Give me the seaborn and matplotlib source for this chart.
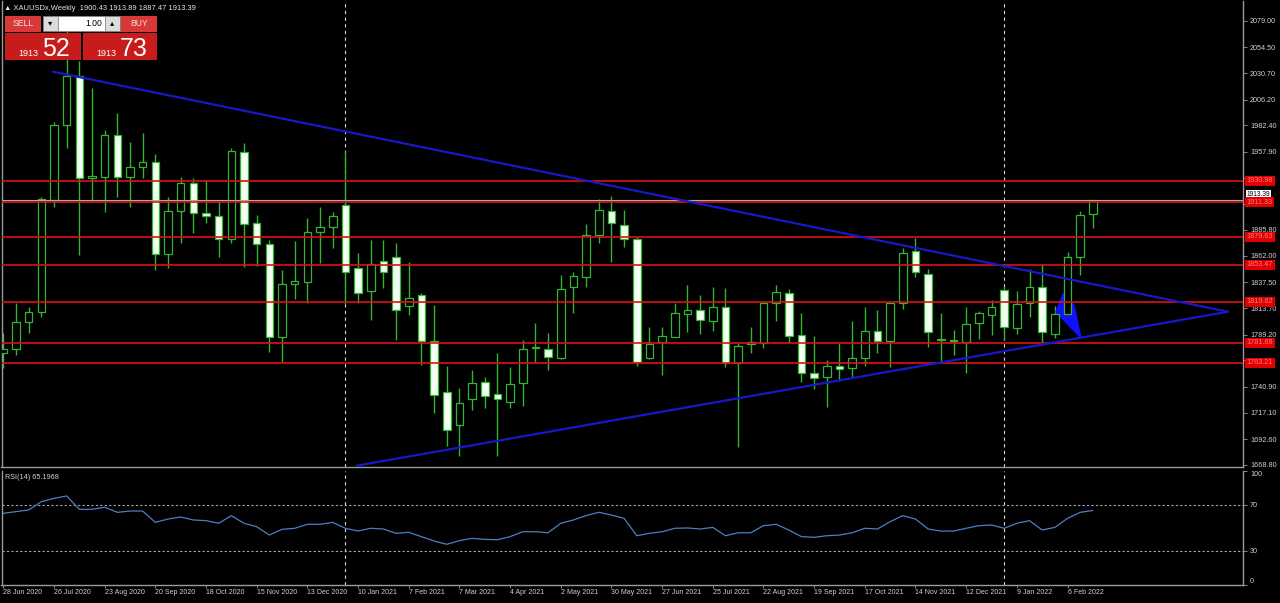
import numpy as np
import pandas as pd
import seaborn as sns
import matplotlib
matplotlib.use("Agg")
import matplotlib.pyplot as plt
import matplotlib.transforms as mtransforms
from matplotlib.patches import Rectangle, Polygon

# weekly XAUUSD candles, 28 Jun 2020 .. 20 Feb 2022
opens = [1772.5, 1775.9, 1800.5, 1809.7, 1913.5, 1982.4, 2027.9, 1933.4, 1935.0, 1973.5,
         1935.0, 1943.6, 1948.9, 1863.3, 1903.3, 1928.8, 1901.8, 1898.7, 1877.5, 1958.1,
         1891.9, 1872.8, 1786.7, 1835.9, 1837.5, 1883.6, 1888.8, 1908.9, 1850.4, 1829.4,
         1857.1, 1861.1, 1815.6, 1825.7, 1783.3, 1735.9, 1705.7, 1729.4, 1745.7, 1734.0,
         1727.3, 1744.2, 1777.1, 1775.9, 1767.9, 1832.8, 1842.7, 1881.2, 1903.3, 1890.4,
         1877.2, 1767.9, 1782.1, 1787.3, 1807.9, 1811.9, 1802.1, 1815.0, 1763.3, 1780.5,
         1781.1, 1818.1, 1827.9, 1788.8, 1754.0, 1749.7, 1760.2, 1758.0, 1767.9, 1792.8,
         1783.3, 1818.0, 1866.7, 1845.1, 1784.5, 1784.2, 1782.0, 1799.6, 1807.3, 1830.4,
         1795.0, 1818.7, 1832.8, 1789.7, 1807.9, 1860.5, 1900.43]
highs = [1790.4, 1818.0, 1815.0, 1916.5, 1985.8, 2075.0, 2042.0, 2016.6, 1978.1, 1993.5,
         1967.3, 1975.0, 1955.9, 1916.5, 1935.0, 1933.4, 1931.9, 1911.9, 1961.2, 1966.4,
         1899.6, 1876.5, 1848.8, 1875.6, 1896.5, 1907.3, 1902.7, 1959.6, 1864.2, 1876.5,
         1876.5, 1873.5, 1856.5, 1827.3, 1816.5, 1760.2, 1739.6, 1756.5, 1750.4, 1771.9,
         1759.6, 1784.2, 1799.6, 1791.0, 1844.2, 1847.3, 1891.0, 1914.1, 1917.5, 1904.2,
         1879.6, 1796.5, 1796.5, 1818.7, 1835.0, 1825.8, 1833.4, 1831.9, 1781.1, 1795.9,
         1819.5, 1835.0, 1831.0, 1809.4, 1787.9, 1765.8, 1781.7, 1802.1, 1815.0, 1811.9,
         1818.7, 1868.8, 1878.1, 1849.4, 1808.8, 1793.4, 1815.0, 1811.0, 1821.1, 1833.4,
         1829.7, 1849.4, 1854.4, 1815.6, 1865.8, 1903.6, 1913.89]
lows = [1758.0, 1770.4, 1790.4, 1805.7, 1907.3, 1961.2, 1862.7, 1911.9, 1902.7, 1916.5,
        1907.3, 1933.4, 1848.8, 1850.4, 1873.5, 1882.7, 1891.9, 1860.5, 1874.1, 1851.3,
        1852.5, 1773.4, 1764.2, 1821.7, 1818.7, 1855.6, 1868.8, 1817.0, 1818.1, 1802.7,
        1831.9, 1784.2, 1807.3, 1761.1, 1717.1, 1686.3, 1677.1, 1719.6, 1721.1, 1677.4,
        1721.1, 1723.3, 1763.6, 1756.5, 1766.4, 1808.8, 1832.8, 1873.5, 1856.5, 1869.8,
        1760.5, 1766.7, 1751.9, 1786.7, 1791.9, 1789.7, 1792.5, 1759.6, 1685.0, 1771.9,
        1776.5, 1802.1, 1782.7, 1745.7, 1738.7, 1722.0, 1746.7, 1749.7, 1760.2, 1771.9,
        1759.0, 1812.5, 1842.7, 1778.0, 1762.7, 1770.4, 1753.4, 1784.8, 1788.8, 1784.2,
        1789.7, 1805.7, 1781.1, 1785.7, 1805.0, 1844.2, 1887.47]
closes = [1775.9, 1800.5, 1809.7, 1914.1, 1982.4, 2027.9, 1933.4, 1935.6, 1973.5, 1935.0,
          1943.6, 1948.9, 1863.3, 1903.3, 1929.5, 1901.2, 1899.0, 1877.5, 1959.0, 1891.0,
          1872.8, 1787.3, 1835.9, 1838.7, 1883.6, 1888.8, 1899.0, 1847.3, 1827.3, 1854.1,
          1847.3, 1811.9, 1822.7, 1783.3, 1733.4, 1701.1, 1725.7, 1744.2, 1732.8, 1729.7,
          1743.3, 1776.2, 1778.1, 1768.8, 1831.0, 1843.3, 1881.2, 1904.2, 1891.9, 1877.2,
          1763.6, 1780.2, 1788.2, 1808.8, 1811.9, 1802.7, 1815.0, 1763.3, 1778.7, 1782.7,
          1818.7, 1828.8, 1788.2, 1753.4, 1748.8, 1760.5, 1757.1, 1767.3, 1792.8, 1783.3,
          1818.1, 1864.8, 1847.3, 1791.9, 1785.1, 1783.3, 1798.7, 1808.8, 1815.0, 1796.5,
          1817.1, 1832.8, 1791.3, 1807.9, 1861.1, 1899.6, 1913.39]
rsi = [62.7, 64.2, 65.6, 72.9, 75.8, 77.9, 66.2, 66.2, 68.0, 63.6,
       64.7, 64.7, 54.8, 57.7, 59.5, 56.9, 56.3, 54.0, 60.7, 54.0,
       51.0, 43.7, 48.7, 49.6, 53.1, 53.1, 54.8, 49.6, 47.2, 49.6,
       49.0, 45.2, 46.1, 42.3, 38.5, 35.6, 38.8, 40.8, 39.9, 39.6,
       42.3, 46.6, 46.6, 45.7, 54.0, 56.9, 60.7, 63.6, 61.2, 58.3,
       43.1, 45.2, 46.6, 49.6, 49.9, 49.0, 50.4, 43.1, 45.7, 45.7,
       51.9, 53.1, 48.1, 42.3, 41.7, 43.1, 43.7, 45.7, 49.6, 49.0,
       55.4, 60.7, 57.7, 49.0, 47.2, 47.2, 49.6, 51.9, 52.5, 49.6,
       54.0, 56.3, 48.1, 50.4, 58.3, 63.6, 65.2]

date_labels = ["28 Jun 2020", "26 Jul 2020", "23 Aug 2020", "20 Sep 2020", "18 Oct 2020",
               "15 Nov 2020", "13 Dec 2020", "10 Jan 2021", "7 Feb 2021", "7 Mar 2021",
               "4 Apr 2021", "2 May 2021", "30 May 2021", "27 Jun 2021", "25 Jul 2021",
               "22 Aug 2021", "19 Sep 2021", "17 Oct 2021", "14 Nov 2021", "12 Dec 2021",
               "9 Jan 2022", "6 Feb 2022"]
price_ticks = [2079.00, 2054.50, 2030.70, 2006.20, 1982.40, 1957.90, 1934.10, 1909.60, 1885.80,
               1862.00, 1837.50, 1813.70, 1789.20, 1765.40, 1740.90, 1717.10, 1692.60, 1668.80]
# these scale labels sit under the level boxes and are hidden in the terminal
covered_ticks = [1934.10, 1909.60, 1765.40]
levels = [1931.0, 1911.3, 1879.6, 1853.5, 1819.6, 1781.7, 1763.2]
level_labels = ["1930.98", "1911.33", "1879.63", "1853.47", "1819.62", "1781.68", "1763.21"]
bid = 1913.39
year_breaks = [27, 79]

# trend lines / arrow (bar index, price)
upper_x = [3.92, 96.66]
upper_y = [2031.9, 1810.3]
lower_x = [27.89, 96.66]
lower_y = [1668.1, 1810.3]
arrow_x = [83.64, 83.09, 85.06, 84.51]
arrow_y = [1826.7, 1810.1, 1786.0, 1816.5]

sns.set_theme(style="dark", rc={"axes.facecolor": "black", "figure.facecolor": "black"})
plt.rcParams['font.family'] = ['Liberation Sans', 'DejaVu Sans']

df = pd.DataFrame({"o": opens, "h": highs, "l": lows, "c": closes, "rsi": rsi})
df["i"] = np.arange(len(df))
bull = df["c"] >= df["o"]

GREEN = '#33b533'
GREY = '#9a9a9a'
TXT = '#d0d0d0'

W, H = 1280, 603
fig = plt.figure(figsize=(12.8, 6.03), dpi=100, facecolor='black')
ax = fig.add_axes([1.5 / W, 1 - 467 / H, (1243 - 1.5) / W, 466 / H])
ax2 = fig.add_axes([1.5 / W, 1 - 585 / H, (1243 - 1.5) / W, 114.3 / H])

xlim = (-0.142, 97.85)
for a in (ax, ax2):
    a.set_facecolor('black')
    a.set_xlim(*xlim)
    for s in a.spines.values():
        s.set_color(GREY)
        s.set_linewidth(1.0)
    a.spines['top'].set_visible(False)
    for xb in year_breaks:
        a.axvline(xb, color='#d8d8d8', lw=0.8, ls=(0, (3, 3)), zorder=1)

# candles
ax.vlines(df["i"], df["l"], df["h"], color=GREEN, lw=1.0, zorder=2)
body_lo = np.minimum(df["o"], df["c"])
body_h = np.maximum((df["c"] - df["o"]).abs(), 0.6)
ax.bar(df["i"][bull], body_h[bull], bottom=body_lo[bull], width=0.6,
       color='black', edgecolor=GREEN, linewidth=0.9, zorder=3)
ax.bar(df["i"][~bull], body_h[~bull], bottom=body_lo[~bull], width=0.6,
       color='#f4fff4', edgecolor=GREEN, linewidth=0.9, zorder=3)

# horizontal levels and bid line
for lv in levels:
    ax.axhline(lv, color='#e01010', lw=1.2, zorder=4)
ax.axhline(bid, color='#a8a8a8', lw=0.8, zorder=4)

# triangle lines + arrow
sns.lineplot(x=upper_x, y=upper_y, ax=ax, color='#1818c8', lw=1.6, zorder=5)
sns.lineplot(x=lower_x, y=lower_y, ax=ax, color='#1818c8', lw=1.6, zorder=5)
ax.add_patch(Polygon(np.column_stack([arrow_x, arrow_y]), closed=True,
                     fc='#1010ff', ec='#1010ff', zorder=2.5))

ax.set_ylim(1666.9, 2097.2)
ax.yaxis.tick_right()
ax.set_yticks(price_ticks)
ax.set_yticklabels(["" if t in covered_ticks else f"{t:.2f}" for t in price_ticks])
ax.tick_params(axis='y', colors=GREY, labelcolor=TXT, labelsize=5.2, length=3,
               width=0.6, pad=2, direction='out', right=True, left=False)
ax.set_xticks([])
ax.grid(False)

trans = mtransforms.blended_transform_factory(ax.transAxes, ax.transData)
ax.text(1.003, bid + 5.5, f"{bid:.2f}", transform=trans, fontsize=4.8, color='black',
        va='center', ha='left', clip_on=False, zorder=6,
        bbox=dict(boxstyle='square,pad=0.12', fc='white', ec='none'))
for lv, lab in zip(levels, level_labels):
    ax.text(1.003, lv, lab, transform=trans, fontsize=5.2, color='#ff7a7a',
            va='center', ha='left', clip_on=False, zorder=7,
            bbox=dict(boxstyle='square,pad=0.2', fc='#e00000', ec='none'))

# RSI panel
sns.lineplot(data=df, x="i", y="rsi", ax=ax2, color='#4d7fbf', lw=0.9)
for lv in (70, 30):
    ax2.axhline(lv, color='#a8a8a8', lw=0.8, ls=(0, (2, 2)), zorder=1)
ax2.set_ylim(0, 100)
ax2.set_xlim(*xlim)
ax2.yaxis.tick_right()
ax2.set_yticks([0, 30, 70, 100])
ax2.set_yticklabels(["0", "30", "70", "100"])
ax2.tick_params(axis='y', colors=GREY, labelcolor=TXT, labelsize=5.2, length=3,
                width=0.6, pad=2, direction='out', right=True, left=False)
yl = ax2.get_yticklabels()
yl[0].set_va('bottom')
yl[3].set_va('top')
ax2.set_xticks(np.arange(0, len(date_labels) * 4, 4))
ax2.set_xticklabels(date_labels, ha='left')
ax2.tick_params(axis='x', colors=GREY, labelcolor=TXT, labelsize=5.0, length=2,
                width=0.6, pad=1, direction='out', bottom=True)
ax2.set_xlabel("")
ax2.set_ylabel("")
ax.set_xlabel("")
ax.set_ylabel("")
ax2.grid(False)
ax2.text(0.003, 0.97, "RSI(14) 65.1968", transform=ax2.transAxes, fontsize=5.2,
         color=TXT, va='top', ha='left')

# header + one-click trading panel (pixel overlay)
ov = fig.add_axes([0, 0, 1, 1])
ov.set_xlim(0, W)
ov.set_ylim(H, 0)
ov.axis('off')
ov.patch.set_alpha(0)
ov.text(4, 8.5, "\u25b2 XAUUSDx,Weekly  1900.43 1913.89 1887.47 1913.39",
        fontsize=5.4, color='#e8e8e8', va='center', ha='left')
ov.add_patch(Rectangle((5, 16), 36, 16, fc='#d83838', ec='none'))
ov.add_patch(Rectangle((121, 16), 36, 16, fc='#d83838', ec='none'))
ov.add_patch(Rectangle((43, 16), 15, 15, fc='#dcdcdc', ec='#888888', lw=0.5))
ov.add_patch(Rectangle((58, 16), 47, 15, fc='white', ec='#888888', lw=0.5))
ov.add_patch(Rectangle((105, 16), 15, 15, fc='#dcdcdc', ec='#888888', lw=0.5))
ov.add_patch(Rectangle((5, 33), 76, 27, fc='#c81c1c', ec='none'))
ov.add_patch(Rectangle((83, 33), 74, 27, fc='#c81c1c', ec='none'))
ov.text(23, 24, "SELL", fontsize=6.2, color='#f4dede', ha='center', va='center')
ov.text(139, 24, "BUY", fontsize=6.2, color='#f4dede', ha='center', va='center')
ov.text(50.5, 23.5, "\u25be", fontsize=6, color='black', ha='center', va='center')
ov.text(112.5, 23.5, "\u25b4", fontsize=6, color='black', ha='center', va='center')
ov.text(102, 23.5, "1.00", fontsize=6.2, color='black', ha='right', va='center')
ov.text(18, 56, "1913", fontsize=6.5, color='white', ha='left', va='baseline')
ov.text(42, 56, "52", fontsize=18, color='white', ha='left', va='baseline')
ov.text(96, 56, "1913", fontsize=6.5, color='white', ha='left', va='baseline')
ov.text(120, 56, "73", fontsize=18, color='white', ha='left', va='baseline')

fig.savefig("out.png", dpi=100, facecolor='black')
